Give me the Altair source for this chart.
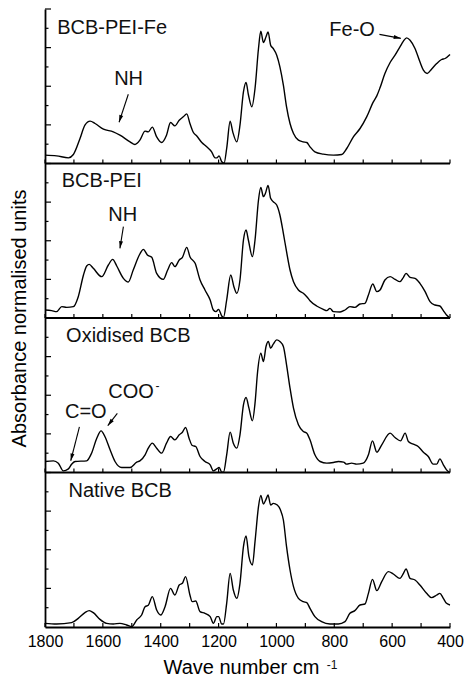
import altair as alt
import pandas as pd

FONT = "Liberation Sans"
PANEL_H = 463.5  # absorbance units spanned by one panel (normalised)

# bottom-to-top order of the stacked spectra
SAMPLES = ["Native BCB", "Oxidised BCB", "BCB-PEI", "BCB-PEI-Fe"]

X_TICKS = [1800, 1700, 1600, 1500, 1400, 1300, 1200, 1100, 1000, 900, 800, 700, 600, 500, 400]
X_LABELS = [1800, 1600, 1400, 1200, 1000, 800, 600, 400]
Y_MAJOR = [0.25, 0.5, 0.75, 1.0]
Y_MINOR = [0.125, 0.375, 0.625, 0.875]

fe_wn = [1800, 1760, 1719, 1702, 1679, 1662, 1644, 1627, 1598, 1564, 1541, 1506, 1489, 1472, 1454, 1443,
         1429, 1414, 1397, 1380, 1366, 1351, 1336, 1322, 1310, 1299, 1287, 1276, 1258, 1241, 1224, 1212,
         1206, 1198, 1189, 1181, 1172, 1160, 1151, 1137, 1126, 1114, 1105, 1097, 1085, 1074, 1062, 1054,
         1045, 1036, 1029, 1020, 1011, 999, 988, 976, 965, 953, 941, 924, 907, 895, 884, 867,
         838, 803, 774, 757, 734, 711, 688, 665, 653, 642, 625, 607, 590, 573, 561, 550,
         538, 521, 504, 492, 479, 464, 446, 429, 417, 400]
fe_abs = [25, 23, 17, 27, 75, 115, 127, 120, 103, 95, 85, 65, 57, 70, 97, 95,
          109, 80, 63, 85, 123, 113, 130, 140, 149, 120, 93, 83, 63, 50, 35, 17,
          17, 23, 5, 1, 45, 127, 95, 65, 115, 215, 243, 207, 170, 225, 345, 397,
          363, 380, 395, 355, 345, 325, 290, 235, 170, 120, 90, 70, 65, 63, 50, 35,
          28, 25, 27, 45, 80, 105, 140, 185, 203, 227, 270, 303, 325, 350, 367, 377,
          370, 345, 305, 280, 270, 283, 300, 312, 315, 327]

pei_wn = [1800, 1777, 1760, 1742, 1725, 1702, 1685, 1667, 1656, 1647, 1633, 1604, 1581, 1566, 1552, 1529,
          1512, 1495, 1472, 1460, 1446, 1431, 1414, 1391, 1376, 1362, 1351, 1336, 1325, 1310, 1299, 1281,
          1264, 1247, 1229, 1218, 1209, 1200, 1189, 1183, 1172, 1158, 1147, 1137, 1126, 1114, 1105, 1097,
          1083, 1074, 1062, 1054, 1045, 1038, 1029, 1020, 1011, 999, 988, 976, 965, 953, 941, 924,
          907, 895, 884, 861, 838, 826, 815, 803, 780, 763, 746, 729, 711, 694, 682, 667,
          653, 642, 625, 607, 590, 573, 561, 552, 538, 521, 504, 486, 469, 452, 435, 423,
          412, 400]
pei_abs = [24, 22, 19, 34, 32, 34, 64, 129, 156, 161, 149, 124, 159, 176, 156, 119,
           108, 144, 192, 206, 189, 182, 134, 116, 144, 166, 154, 174, 182, 212, 184, 164,
           114, 84, 54, 24, 19, 26, 6, 2, 54, 129, 94, 74, 114, 234, 264, 234,
           184, 234, 354, 392, 364, 374, 398, 359, 349, 339, 309, 254, 199, 144, 109, 84,
           74, 64, 52, 36, 26, 22, 29, 19, 18, 24, 34, 32, 42, 44, 69, 102,
           79, 84, 114, 124, 116, 109, 122, 134, 122, 119, 104, 79, 49, 39, 36, 22,
           9, 0]

ox_wn = [1800, 1771, 1754, 1737, 1719, 1708, 1696, 1656, 1639, 1621, 1606, 1593, 1575, 1558, 1535, 1506,
         1483, 1472, 1454, 1443, 1429, 1414, 1397, 1380, 1366, 1351, 1336, 1325, 1314, 1302, 1291, 1279,
         1264, 1247, 1229, 1218, 1206, 1198, 1189, 1183, 1172, 1160, 1149, 1137, 1126, 1114, 1105, 1095,
         1083, 1074, 1065, 1054, 1045, 1036, 1028, 1020, 1011, 999, 988, 976, 965, 953, 941, 924,
         907, 895, 884, 867, 849, 826, 803, 786, 768, 757, 740, 723, 700, 682, 668, 653,
         636, 607, 590, 571, 555, 544, 527, 510, 492, 475, 458, 446, 435, 423, 412, 400]
ox_abs = [33, 35, 28, 5, 11, 25, 33, 35, 58, 103, 125, 108, 68, 33, 15, 15,
          31, 35, 53, 73, 88, 73, 58, 88, 108, 98, 113, 121, 135, 103, 81, 78,
          48, 33, 23, 5, 11, 15, 1, 1, 53, 121, 88, 73, 113, 203, 225, 193,
          155, 208, 303, 358, 333, 378, 393, 373, 385, 398, 393, 378, 323, 253, 193, 143,
          123, 118, 98, 53, 33, 28, 30, 33, 31, 25, 28, 25, 28, 53, 95, 61,
          83, 118, 105, 95, 118, 93, 85, 78, 61, 48, 25, 25, 41, 23, 8, 0]

nat_wn = [1800, 1760, 1708, 1685, 1662, 1647, 1633, 1610, 1587, 1564, 1541, 1518, 1500, 1483, 1466, 1454,
          1443, 1429, 1414, 1400, 1385, 1366, 1351, 1336, 1325, 1314, 1299, 1291, 1279, 1264, 1247, 1229,
          1218, 1206, 1200, 1189, 1183, 1172, 1160, 1149, 1137, 1126, 1114, 1105, 1095, 1083, 1074, 1062,
          1054, 1045, 1036, 1029, 1020, 1011, 997, 986, 976, 965, 953, 941, 924, 907, 895, 884,
          867, 844, 815, 786, 763, 746, 729, 711, 694, 682, 668, 653, 636, 613, 596, 573,
          561, 552, 538, 521, 504, 481, 464, 446, 435, 423, 412, 400]
nat_abs = [11, 9, 13, 26, 43, 49, 43, 23, 11, 9, 11, 6, 1, 21, 36, 61,
           65, 91, 51, 36, 61, 116, 96, 126, 131, 151, 96, 76, 78, 46, 41, 31,
           11, 31, 31, 9, 9, 71, 161, 111, 86, 131, 241, 273, 211, 186, 256, 361,
           395, 369, 383, 396, 366, 371, 366, 351, 321, 241, 171, 121, 86, 76, 73, 56,
           31, 16, 9, 9, 16, 41, 49, 66, 69, 101, 143, 109, 136, 166, 159, 146,
           161, 174, 146, 141, 126, 101, 88, 96, 101, 86, 71, 66]

series = {
    "Native BCB": (nat_wn, nat_abs),
    "Oxidised BCB": (ox_wn, ox_abs),
    "BCB-PEI": (pei_wn, pei_abs),
    "BCB-PEI-Fe": (fe_wn, fe_abs),
}

rows = []
for i, name in enumerate(SAMPLES):
    wn, ab = series[name]
    for w, a in zip(wn, ab):
        rows.append({"sample": name, "wn": w, "y": i + a / PANEL_H})
spec = pd.DataFrame(rows)

# annotation texts (left edge wavenumber, baseline in stacked panel units)
txt_label = ["BCB-PEI-Fe", "BCB-PEI", "Oxidised BCB", "Native BCB", "NH", "NH", "Fe-O", "COO", "C=O"]
txt_wn = [1758, 1742, 1727, 1719, 1561, 1581, 817, 1581, 1731]
txt_y = [3.841, 2.850, 1.843, 0.839, 3.505, 2.630, 3.827, 1.480, 1.351]
texts = pd.DataFrame({"t": txt_label, "wn": txt_wn, "y": txt_y})

sup_label = ["-", "-1"]
sup_wn = [1418, 826]
sup_y = [1.535, -0.272]
sups = pd.DataFrame({"t": sup_label, "wn": sup_wn, "y": sup_y})

arr_x1 = [1512, 644, 1529, 1681, 1550]
arr_y1 = [3.448, 3.836, 2.591, 1.296, 1.383]
arr_x2 = [1544, 570, 1541, 1711, 1583]
arr_y2 = [3.267, 3.810, 2.451, 1.076, 1.303]
arr_angle = [198, 101, 189, 194, 218]
arrows = pd.DataFrame({"x1": arr_x1, "y1": arr_y1, "x2": arr_x2, "y2": arr_y2, "angle": arr_angle})

xticks = pd.DataFrame([{"wn": w, "y": float(k)} for k in range(4) for w in X_TICKS])
ymaj = pd.DataFrame({"y": [k + f for k in range(4) for f in Y_MAJOR]})
ymin = pd.DataFrame({"y": [k + f for k in range(4) for f in Y_MINOR]})
bounds = pd.DataFrame({"y": [1.0, 2.0, 3.0]})

x_scale = alt.Scale(domain=[400, 1800], reverse=True, nice=False, zero=False)
y_scale = alt.Scale(domain=[0, 4], nice=False, zero=False)

x_axis = alt.Axis(values=X_LABELS, ticks=False, tickSize=0, grid=False, format="d",
                  labelFontSize=16, labelFont=FONT, labelColor="black", labelPadding=6,
                  labelFlush=False, domainColor="black", domainWidth=1.8,
                  title="Wave number cm", titleFont=FONT, titleFontSize=20,
                  titleFontWeight="normal", titleColor="black", titlePadding=8, titleX=196)
y_axis = alt.Axis(ticks=False, tickSize=0, labels=False, grid=False,
                  domainColor="black", domainWidth=1.8,
                  title="Absorbance normalised units", titleFont=FONT, titleFontSize=20,
                  titleFontWeight="normal", titleColor="black", titlePadding=16)

lines = alt.Chart(spec).mark_line(color="black", strokeWidth=1.4, interpolate="monotone").encode(
    x=alt.X("wn:Q", scale=x_scale, axis=x_axis),
    y=alt.Y("y:Q", scale=y_scale, axis=y_axis),
    detail="sample:N",
    order="wn:Q",
)

sep = alt.Chart(bounds).mark_rule(color="black", strokeWidth=1.8).encode(
    x=alt.X(datum=1800), x2=alt.X2(datum=400), y="y:Q"
)

xt = alt.Chart(xticks).mark_rule(color="black", strokeWidth=1.2, y2Offset=-4).encode(
    x="wn:Q", y="y:Q", y2="y:Q"
)
ytmaj = alt.Chart(ymaj).mark_rule(color="black", strokeWidth=1.2, x2Offset=6).encode(
    x=alt.X(datum=1800), x2=alt.X2(datum=1800), y="y:Q"
)
ytmin = alt.Chart(ymin).mark_rule(color="black", strokeWidth=1.2, x2Offset=3.5).encode(
    x=alt.X(datum=1800), x2=alt.X2(datum=1800), y="y:Q"
)

labels = alt.Chart(texts).mark_text(align="left", baseline="alphabetic", font=FONT,
                                    fontSize=20, color="#111").encode(
    x="wn:Q", y="y:Q", text="t:N"
)
suplabels = alt.Chart(sups).mark_text(align="left", baseline="alphabetic", font=FONT,
                                      fontSize=12, color="#111").encode(
    x="wn:Q", y="y:Q", text="t:N"
)

arrow_lines = alt.Chart(arrows).mark_rule(color="black", strokeWidth=1.1).encode(
    x="x1:Q", y="y1:Q", x2="x2:Q", y2="y2:Q"
)
arrow_heads = alt.Chart(arrows).mark_point(
    shape="M0,0L0.45,1.6L-0.45,1.6Z", filled=True, color="black", size=80, opacity=1, strokeWidth=0
).encode(x="x2:Q", y="y2:Q", angle=alt.Angle("angle:Q", scale=None))

chart = alt.layer(lines, sep, xt, ytmaj, ytmin, labels, suplabels, arrow_lines, arrow_heads).properties(
    width=405, height=618,
    autosize=alt.AutoSizeParams(type="none"),
    padding={"left": 45, "top": 9, "right": 20, "bottom": 51},
    background="white",
).configure_view(stroke=None)

chart.save("out.html", embed_options={"renderer": "svg", "actions": False})
